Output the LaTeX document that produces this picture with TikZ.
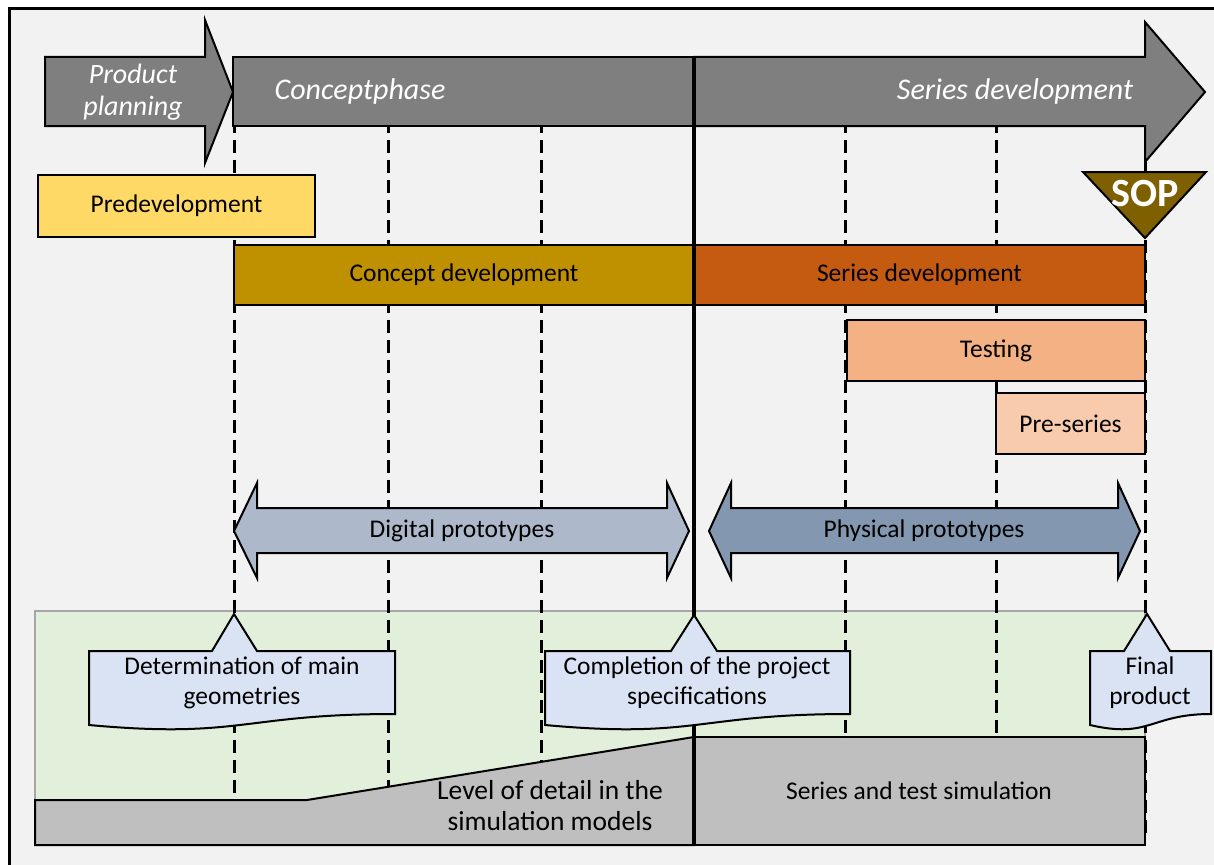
\documentclass[tikz,border=0pt]{standalone}
\usepackage{fontspec}
\setmainfont{Carlito}
\definecolor{framebg}{HTML}{F2F2F2}
\definecolor{phasegray}{HTML}{7F7F7F}
\definecolor{predev}{HTML}{FFD966}
\definecolor{conceptdev}{HTML}{BF9000}
\definecolor{seriesdev}{HTML}{C55A11}
\definecolor{testing}{HTML}{F4B183}
\definecolor{preseries}{HTML}{F8CBAD}
\definecolor{sop}{HTML}{7F6000}
\definecolor{digital}{HTML}{ADB9CA}
\definecolor{physical}{HTML}{8497B0}
\definecolor{panel}{HTML}{E2EFDA}
\definecolor{panelline}{HTML}{A6A6A6}
\definecolor{callout}{HTML}{DAE3F3}
\definecolor{simgray}{HTML}{BFBFBF}
\begin{document}
\begin{tikzpicture}[x=1pt,y=-1pt,
  outline/.style={draw=black,line width=2pt,line join=miter},
  phasetext/.style={text=white,font=\fontsize{30}{32}\selectfont\itshape,align=center},
  lbl/.style={text=black,font=\fontsize{25.5}{30}\selectfont,align=center},
  bigtext/.style={text=black,font=\fontsize{27.5}{31}\selectfont,align=center},
  guide/.style={line width=3pt,dash pattern=on 13pt off 7pt},
  milestone/.style={line width=4.5pt}]
\useasboundingbox (0,0) rectangle (1214,864);
\fill[white] (0,0) rectangle (1214,864);
\draw[line width=3pt,fill=framebg] (9,9) rectangle (1230,880);

% green simulation panel
\draw[panelline,line width=1.5pt,fill=panel] (35,611) rectangle (1145,845);

% dashed phase guides
\foreach \gx/\gn in {234/ga,388/gb,541/gc,845/gd,996/ge,1145/gf}{
  \coordinate (\gn top) at (\gx,100);
  \coordinate (\gn bot) at (\gx,840);
  \draw[guide] (\gn top) -- (\gn bot);
}

% top phase arrows
\draw[outline,fill=phasegray] (45,57) -- (205,57) -- (205,20) -- (233,92) -- (205,163) -- (205,126) -- (45,126) -- cycle;
\draw[outline,fill=phasegray] (233,57) rectangle (694,126);
\draw[outline,fill=phasegray] (694,57) -- (1145,57) -- (1145,22) -- (1205,92) -- (1145,162) -- (1145,126) -- (694,126) -- cycle;
\node[phasetext,font=\fontsize{28}{32}\selectfont\itshape] (pp) at (133,92) {Product\\planning};
\node[phasetext] (cp) at (360,92) {Conceptphase};
\node[phasetext] (sd) at (1015,92) {Series development};

% development blocks
\node[outline,fill=predev,minimum width=277pt,minimum height=62pt,lbl] (pre) at (176.5,206) {Predevelopment};
\node[outline,fill=conceptdev,minimum width=460pt,minimum height=60pt,lbl] (cdev) at (464,275) {Concept development};
\node[outline,fill=seriesdev,minimum width=451pt,minimum height=60pt,lbl] (sdev) at (919.5,275) {Series development};
\node[outline,fill=testing,minimum width=298pt,minimum height=61pt,lbl] (test) at (996,350.5) {Testing};
\node[outline,fill=preseries,minimum width=149pt,minimum height=61pt,lbl] (pres) at (1070.5,423.5) {Pre-series};

% start of production marker
\draw[outline,fill=sop] (1083,172) -- (1206,172) -- (1145,238) -- cycle;
\node[text=white,font=\fontsize{40}{44}\selectfont\bfseries] (sopl) at (1145,194) {SOP};

% prototype arrows
\draw[outline,fill=digital] (234,531) -- (257,483) -- (257,508) -- (667,508) -- (667,483) -- (689,531) -- (667,578) -- (667,553) -- (257,553) -- (257,578) -- cycle;
\node[lbl] (dig) at (462,531) {Digital prototypes};
\draw[outline,fill=physical] (709,531) -- (731,483) -- (731,508) -- (1118,508) -- (1118,483) -- (1140,531) -- (1118,578) -- (1118,553) -- (731,553) -- (731,578) -- cycle;
\node[lbl] (phy) at (924,531) {Physical prototypes};

% simulation detail
\draw[outline,fill=simgray] (35,800) -- (307,800) -- (694,737) -- (694,845) -- (35,845) -- cycle;
\draw[outline,fill=simgray] (694,737) rectangle (1145,845);
\node[bigtext] (lod) at (550,806) {Level of detail in the\\simulation models};
\node[lbl] (sts) at (919,791) {Series and test simulation};

% main milestone line
\coordinate (mtop) at (694,57);
\coordinate (mbot) at (694,845);
\draw[milestone] (mtop) -- (mbot);

% milestone callouts
\draw[outline,fill=callout] (89,651) -- (212,651) -- (234,614) -- (257,651) -- (395,651) -- (395,714)
  .. controls (242,714) and (242,739) .. (89,725) -- cycle;
\node[lbl] (c1) at (242,683) {Determination of main\\geometries};
\draw[outline,fill=callout] (545,651) -- (671,651) -- (694,615) -- (717,651) -- (850,651) -- (850,714)
  .. controls (697,714) and (697,739) .. (545,725) -- cycle;
\node[lbl] (c2) at (697,683) {Completion of the project\\specifications};
\draw[outline,fill=callout] (1090,651) -- (1124,651) -- (1147,614) -- (1170,651) -- (1211,651) -- (1211,714)
  .. controls (1150,714) and (1150,739) .. (1090,725) -- cycle;
\node[lbl] (c3) at (1150,683) {Final\\product};
\end{tikzpicture}
\end{document}
